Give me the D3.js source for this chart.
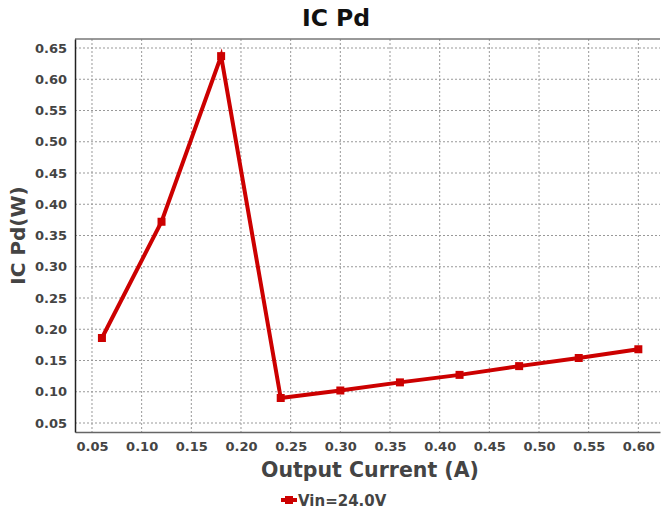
<!DOCTYPE html>
<html>
<head>
<meta charset="utf-8">
<script src="https://cdn.jsdelivr.net/npm/d3@7"></script>
<style>
  body { margin: 0; background: #fff; }
  text { font-family: "DejaVu Sans", sans-serif; font-weight: bold; fill: #444; }
</style>
</head>
<body>
<svg id="chart" width="661" height="512"></svg>
<script>
// chart data
const current = [0.06, 0.12, 0.18, 0.24, 0.30, 0.36, 0.42, 0.48, 0.54, 0.60];
const icPd = [0.186, 0.372, 0.637, 0.090, 0.102, 0.115, 0.127, 0.141, 0.154, 0.168];
const xTicks = [0.05, 0.10, 0.15, 0.20, 0.25, 0.30, 0.35, 0.40, 0.45, 0.50, 0.55, 0.60];
const yTicks = [0.05, 0.10, 0.15, 0.20, 0.25, 0.30, 0.35, 0.40, 0.45, 0.50, 0.55, 0.60, 0.65];
const seriesName = "Vin=24.0V";

const margin = {top: 39, right: 1, bottom: 80, left: 75};
const width = 661 - margin.left - margin.right;
const height = 512 - margin.top - margin.bottom;
const red = "#cc0000";

const svg = d3.select("#chart");
const g = svg.append("g")
    .attr("transform", "translate(" + margin.left + "," + margin.top + ")");

const x = d3.scaleLinear().domain([0.0329, 0.6218]).range([0, width]);
const y = d3.scaleLinear().domain([0.0356, 0.6644]).range([height, 0]);

// grid lines
g.append("g").selectAll("line")
    .data(xTicks)
    .enter().append("line")
    .attr("x1", d => x(d)).attr("x2", d => x(d))
    .attr("y1", 0).attr("y2", height)
    .attr("stroke", "#999").attr("stroke-dasharray", "2,2");
g.append("g").selectAll("line")
    .data(yTicks)
    .enter().append("line")
    .attr("x1", 0).attr("x2", width)
    .attr("y1", d => y(d)).attr("y2", d => y(d))
    .attr("stroke", "#999").attr("stroke-dasharray", "2,2");

// frame
g.append("line").attr("x1", 0).attr("x2", width).attr("y1", 0).attr("y2", 0)
    .attr("stroke", "#777").attr("stroke-width", 1.5);

// axes
const xAxis = g.append("g")
    .attr("transform", "translate(0," + height + ")")
    .call(d3.axisBottom(x).tickValues(xTicks).tickFormat(d3.format(".2f")).tickSize(0).tickPadding(10));
xAxis.select(".domain").attr("stroke", "#666").attr("stroke-width", 1.5);
xAxis.selectAll("text").style("font-size", "13px").attr("fill", "#444");

const yAxis = g.append("g")
    .call(d3.axisLeft(y).tickValues(yTicks).tickFormat(d3.format(".2f")).tickSize(0).tickPadding(8));
yAxis.select(".domain").attr("stroke", "#222").attr("stroke-width", 1.5);
yAxis.selectAll("text").style("font-size", "13px").attr("fill", "#444");

// series line
const line = d3.line()
    .x((d, i) => x(current[i]))
    .y(d => y(d));
g.append("path")
    .datum(icPd)
    .attr("d", line)
    .attr("fill", "none")
    .attr("stroke", red)
    .attr("stroke-width", 4)
    .attr("stroke-linejoin", "miter");

g.selectAll("rect.marker")
    .data(icPd)
    .enter().append("rect")
    .attr("class", "marker")
    .attr("x", (d, i) => x(current[i]) - 4)
    .attr("y", d => y(d) - 4)
    .attr("width", 8).attr("height", 8)
    .attr("fill", red);

// titles
svg.append("text")
    .attr("x", 336).attr("y", 26)
    .attr("text-anchor", "middle")
    .style("font-size", "23.5px").style("fill", "#111")
    .text("IC Pd");

svg.append("text")
    .attr("x", 370).attr("y", 477)
    .attr("text-anchor", "middle")
    .style("font-size", "20.5px")
    .text("Output Current (A)");

svg.append("text")
    .attr("transform", "translate(25," + (margin.top + height / 2) + ") rotate(-90)")
    .attr("text-anchor", "middle")
    .style("font-size", "20px")
    .text("IC Pd(W)");

// legend
const legend = svg.append("g").attr("transform", "translate(281,500)");
legend.append("line")
    .attr("x1", 0).attr("x2", 16).attr("y1", 0).attr("y2", 0)
    .attr("stroke", red).attr("stroke-width", 4);
legend.append("rect")
    .attr("x", 4).attr("y", -4).attr("width", 8).attr("height", 8)
    .attr("fill", red);
legend.append("text")
    .attr("x", 17).attr("y", 6)
    .style("font-size", "15px")
    .text(seriesName);
</script>
</body>
</html>
